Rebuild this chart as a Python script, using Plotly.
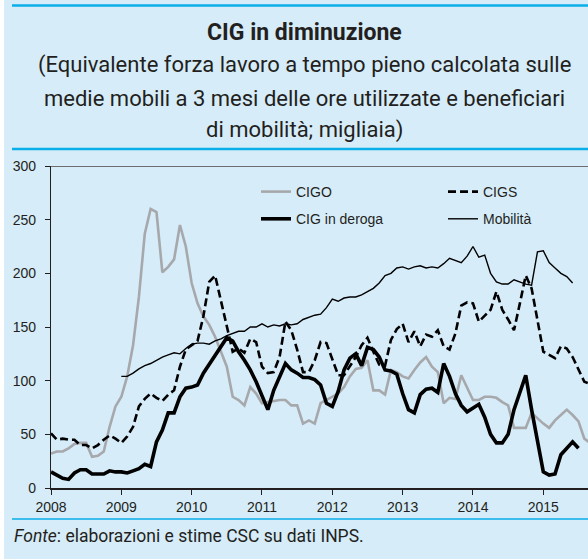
import plotly.graph_objects as go

# ---------------- data (monthly, Jan 2008 onward; thousands) ----------------
start_year = 2008
cigo = [32, 34, 34, 37, 41, 42, 42, 29, 30, 34,
        57, 76, 85, 104, 133, 178, 237, 260, 257, 201,
        206, 213, 245, 225, 191, 172, 160, 152, 141, 127,
        113, 85, 82, 77, 94, 88, 79, 80, 81, 82,
        82, 77, 77, 60, 63, 60, 79, 82, 85, 88,
        94, 104, 111, 112, 119, 91, 91, 87, 110, 108,
        104, 102, 110, 117, 122, 113, 108, 79, 84, 83,
        105, 93, 82, 82, 85, 85, 84, 80, 77, 56,
        56, 56, 70, 65, 60, 56, 63, 68, 73, 68,
        62, 46, 42]
cigs = [51, 45, 46, 45, 45, 40, 40, 37, 40, 45,
        49, 46, 42, 48, 57, 76, 83, 88, 84, 81,
        87, 91, 113, 129, 133, 137, 160, 192, 198, 175,
        149, 127, 130, 126, 139, 136, 113, 107, 108, 122,
        155, 147, 129, 108, 108, 119, 136, 135, 120, 105,
        105, 113, 122, 133, 140, 127, 115, 114, 138, 148,
        153, 136, 146, 132, 143, 141, 147, 132, 129, 144,
        170, 173, 172, 155, 161, 166, 183, 166, 157, 147,
        172, 198, 186, 157, 127, 124, 121, 132, 130, 122,
        110, 99, 97]
deroga = [15, 12, 9, 8, 14, 17, 17, 13, 13, 13,
          16, 15, 15, 14, 16, 18, 22, 20, 43, 54,
          70, 70, 85, 93, 94, 96, 107, 115, 124, 132,
          140, 137, 127, 119, 110, 99, 85, 73, 91, 104,
          116, 110, 107, 103, 103, 101, 96, 79, 76, 90,
          110, 121, 125, 114, 131, 129, 122, 110, 109, 106,
          88, 73, 70, 87, 92, 93, 89, 116, 104, 88,
          77, 71, 75, 78, 66, 50, 42, 42, 50, 73,
          89, 105, 73, 45, 15, 12, 13, 31, 37, 43,
          37]
mobilita_start = 12  # first month index (Jan 2009)
mobilita = [104, 104, 107, 111, 114, 116, 119, 122,
            124, 126, 125, 130, 134, 135, 135, 134, 137, 139,
            142, 144, 146, 146, 150, 150, 153, 150, 152, 151,
            153, 152, 153, 157, 159, 161, 162, 168, 176, 174,
            177, 178, 178, 180, 183, 186, 191, 198, 200, 205,
            206, 204, 206, 207, 205, 206, 205, 209, 214, 212,
            210, 216, 225, 215, 217, 200, 192, 190, 190, 194,
            192, 190, 189, 220, 221, 210, 205, 200, 197, 191]

year_ticks = [2008, 2009, 2010, 2011, 2012, 2013, 2014, 2015]
y_ticks = [0, 50, 100, 150, 200, 250, 300]

series_names = ["CIGO", "CIGS", "CIG in deroga", "Mobilità"]

# ---------------- layout geometry ----------------
W, H = 588, 559
L, R, T, B = 51, 0, 166, 71
PW = W - L - R
PH = H - T - B
YEAR_PX = 70.33


def px(X):
    return (X - L) / PW


def py(Y):
    return (H - B - Y) / PH


def months(n, start=0):
    return [start_year + (start + i) / 12 for i in range(n)]


BG = "#d6ecf9"
CYAN = "#0aaee8"
TXT = "#231f20"
HEAD = "Roboto, Liberation Sans, sans-serif"
SANS = "Liberation Sans, Arial, sans-serif"

fig = go.Figure()
fig.add_trace(go.Scatter(x=months(len(cigo)), y=cigo, mode="lines", name=series_names[0],
                         line=dict(color="#a6a8ab", width=2.6), legend="legend",
                         legendgroup="a"))
fig.add_trace(go.Scatter(x=months(len(cigs)), y=cigs, mode="lines", name=series_names[1],
                         line=dict(color="#000000", width=2.6, dash="8px,4px"),
                         legend="legend2", legendgroup="b"))
fig.add_trace(go.Scatter(x=months(len(mobilita), mobilita_start), y=mobilita, mode="lines",
                         name=series_names[3], line=dict(color="#000000", width=1.4),
                         legend="legend2", legendgroup="d"))
fig.add_trace(go.Scatter(x=months(len(deroga)), y=deroga, mode="lines", name=series_names[2],
                         line=dict(color="#000000", width=3.6), legend="legend",
                         legendgroup="c"))

x_end = start_year + PW / YEAR_PX

shapes = [
    # white strip on the left
    dict(type="rect", xref="paper", yref="paper", x0=px(0), x1=px(4), y0=py(H), y1=py(0),
         fillcolor="white", line=dict(width=0), layer="below"),
    # cyan rules
    dict(type="line", xref="paper", yref="paper", x0=px(12), x1=px(W), y0=py(5.5), y1=py(5.5),
         line=dict(color=CYAN, width=2.5)),
    dict(type="line", xref="paper", yref="paper", x0=px(12), x1=px(W), y0=py(149), y1=py(149),
         line=dict(color=CYAN, width=2.5)),
    dict(type="line", xref="paper", yref="paper", x0=px(12), x1=px(W), y0=py(519), y1=py(519),
         line=dict(color=CYAN, width=1.5)),
    # top border of the plot
    dict(type="line", xref="paper", yref="y", x0=0, x1=1, y0=300, y1=300,
         line=dict(color="#6d6e71", width=2)),
]

annotations = [
    dict(text="<b>CIG in diminuzione</b>", x=px(304), y=py(32), font=dict(family=HEAD, size=23, color=TXT)),
    dict(text="(Equivalente forza lavoro a tempo pieno calcolata sulle", x=px(304), y=py(65),
         font=dict(family=HEAD, size=22, color=TXT)),
    dict(text="medie mobili a 3 mesi delle ore utilizzate e beneficiari", x=px(304), y=py(98),
         font=dict(family=HEAD, size=22, color=TXT)),
    dict(text="di mobilità; migliaia)", x=px(304), y=py(130),
         font=dict(family=HEAD, size=22, color=TXT)),
]
for a in annotations:
    a.update(xref="paper", yref="paper", xanchor="center", yanchor="middle", showarrow=False)
annotations.append(dict(text="<i>Fonte</i>: elaborazioni e stime CSC su dati INPS.", xref="paper",
                        yref="paper", x=px(12), y=py(536), xanchor="left", yanchor="middle",
                        showarrow=False, font=dict(family=HEAD, size=17.5, color=TXT)))

legend_common = dict(xanchor="left", yanchor="top", bgcolor="rgba(0,0,0,0)",
                     font=dict(family=SANS, size=14, color=TXT), tracegroupgap=6,
                     orientation="v")

fig.update_layout(
    width=W, height=H,
    margin=dict(l=L, r=R, t=T, b=B, pad=0),
    paper_bgcolor=BG, plot_bgcolor=BG,
    showlegend=True,
    legend=dict(x=px(256), y=py(176), **legend_common),
    legend2=dict(x=px(443), y=py(176), **legend_common),
    shapes=shapes,
    annotations=annotations,
    xaxis=dict(range=[start_year, x_end], tickmode="array", tickvals=year_ticks,
               ticktext=[str(v) for v in year_ticks], ticks="outside", ticklen=5,
               tickcolor="#231f20", showline=True, linecolor="#231f20", linewidth=1.5,
               showgrid=False, zeroline=False,
               tickfont=dict(family=SANS, size=14, color=TXT)),
    yaxis=dict(range=[0, 300], tickmode="array", tickvals=y_ticks, ticks="outside", ticklen=5,
               tickcolor="#231f20", showline=True, linecolor="#231f20", linewidth=1.2,
               showgrid=False, zeroline=False, ticklabelstandoff=6,
               tickfont=dict(family=SANS, size=14, color=TXT)),
)

fig.write_html("out.html", config={"displayModeBar": False},
               post_script="document.body.style.margin='0px';document.body.style.background='%s';" % BG)
